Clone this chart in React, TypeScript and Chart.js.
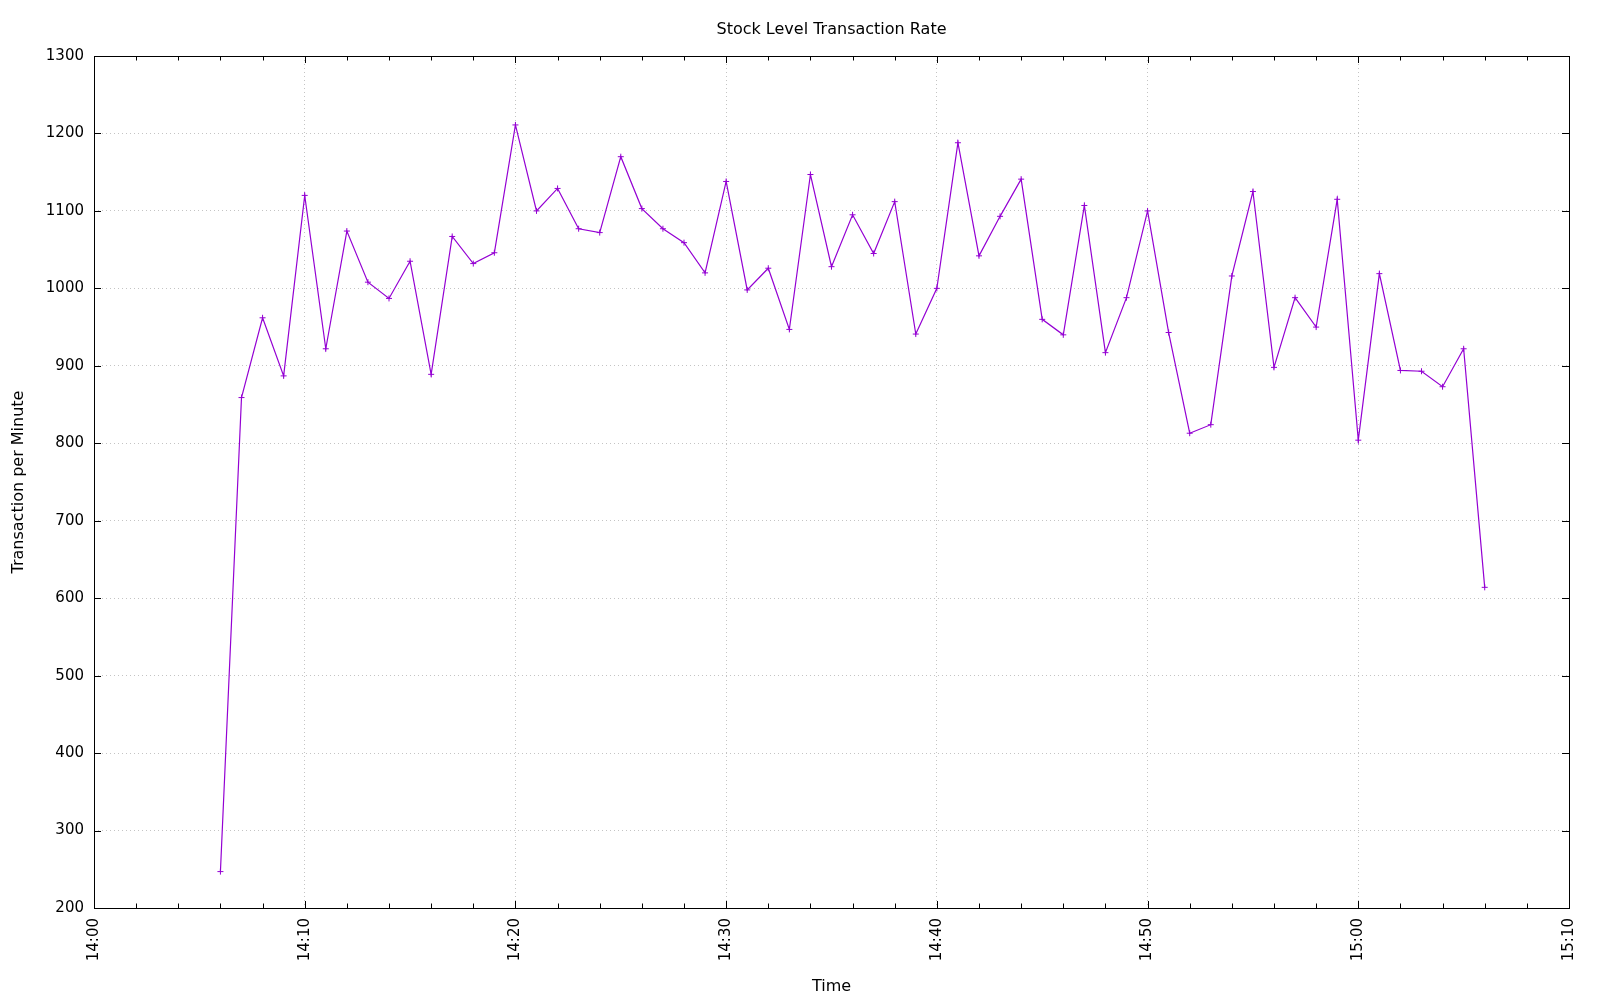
import React, { useEffect, useRef } from "react";
import { Chart, registerables } from "chart.js";

Chart.register(...registerables);

const times: string[] = [
  "14:06", "14:07", "14:08", "14:09", "14:10", "14:11", "14:12", "14:13", "14:14", "14:15",
  "14:16", "14:17", "14:18", "14:19", "14:20", "14:21", "14:22", "14:23", "14:24", "14:25",
  "14:26", "14:27", "14:28", "14:29", "14:30", "14:31", "14:32", "14:33", "14:34", "14:35",
  "14:36", "14:37", "14:38", "14:39", "14:40", "14:41", "14:42", "14:43", "14:44", "14:45",
  "14:46", "14:47", "14:48", "14:49", "14:50", "14:51", "14:52", "14:53", "14:54", "14:55",
  "14:56", "14:57", "14:58", "14:59", "15:00", "15:01", "15:02", "15:03", "15:04", "15:05",
  "15:06",
];

const rates: number[] = [
  247, 859, 962, 887, 1120, 922, 1074, 1008, 987, 1035,
  889, 1067, 1032, 1046, 1211, 1100, 1129, 1077, 1072, 1170,
  1103, 1077, 1059, 1020, 1138, 998, 1026, 947, 1147, 1028,
  1095, 1045, 1112, 941, 1000, 1188, 1042, 1093, 1141, 960,
  940, 1107, 917, 988, 1100, 943, 813, 824, 1016, 1125,
  898, 988, 950, 1115, 804, 1019, 894, 893, 873, 922,
  614,
];

const xTickLabels: string[] = ["14:00", "14:10", "14:20", "14:30", "14:40", "14:50", "15:00", "15:10"];

const FONT = "'DejaVu Sans', 'Liberation Sans', sans-serif";
const LINE_COLOR = "#9400d3";
const GRID_COLOR = "#c4c4c4";

function toMinutes(t: string): number {
  const [h, m] = t.split(":").map(Number);
  return (h - 14) * 60 + m;
}

const boxAndTicks = {
  id: "boxAndTicks",
  afterDraw(chart: any) {
    const { ctx, chartArea } = chart;
    const { left, right, top, bottom } = chartArea;
    const xs = chart.scales.x;
    const ys = chart.scales.y;
    ctx.save();
    ctx.strokeStyle = "#000";
    ctx.lineWidth = 1;
    ctx.beginPath();
    xs.ticks.forEach((t: any) => {
      const px = Math.round(xs.getPixelForValue(t.value)) + 0.5;
      const len = t.value % 10 === 0 ? 7 : 4.5;
      ctx.moveTo(px, bottom);
      ctx.lineTo(px, bottom - len);
      ctx.moveTo(px, top);
      ctx.lineTo(px, top + len);
    });
    ys.ticks.forEach((t: any) => {
      const py = Math.round(ys.getPixelForValue(t.value)) + 0.5;
      ctx.moveTo(left, py);
      ctx.lineTo(left + 7, py);
      ctx.moveTo(right, py);
      ctx.lineTo(right - 7, py);
    });
    ctx.stroke();
    ctx.strokeRect(Math.round(left) + 0.5, Math.round(top) + 0.5, Math.round(right - left), Math.round(bottom - top));
    ctx.restore();
  },
};

export default function App() {
  const ref = useRef<HTMLCanvasElement | null>(null);

  useEffect(() => {
    document.body.style.margin = "0";
    if (!ref.current) return;
    const data = times.map((t, i) => ({ x: toMinutes(t), y: rates[i] }));
    const chart = new Chart(ref.current, {
      type: "line",
      data: {
        datasets: [
          {
            label: "Stock Level",
            data,
            borderColor: LINE_COLOR,
            backgroundColor: LINE_COLOR,
            borderWidth: 1.2,
            pointStyle: "cross",
            pointRadius: 3,
            pointBorderWidth: 1,
            pointBorderColor: LINE_COLOR,
            pointHoverRadius: 3,
            tension: 0,
            fill: false,
          },
        ],
      },
      plugins: [boxAndTicks],
      options: {
        responsive: false,
        animation: false,
        devicePixelRatio: 1,
        layout: { padding: { left: 0, right: 31, top: 0, bottom: 0 } },
        plugins: {
          legend: { display: false },
          tooltip: { enabled: false },
          title: {
            display: true,
            fullSize: false,
            text: "Stock Level Transaction Rate",
            color: "#000",
            font: { family: FONT, size: 16, weight: "normal" },
            padding: { top: 20, bottom: 16.8 },
          },
        },
        scales: {
          x: {
            type: "linear",
            min: 0,
            max: 70,
            afterFit: (s: any) => {
              s.height = 92;
            },
            ticks: {
              stepSize: 2,
              autoSkip: false,
              maxRotation: 90,
              minRotation: 90,
              padding: 10,
              color: "#000",
              font: { family: FONT, size: 15 },
              callback: (v: any) => {
                const n = Number(v);
                return n % 10 === 0 ? xTickLabels[n / 10] : "";
              },
            },
            grid: {
              drawTicks: false,
              lineWidth: 1,
              color: (c: any) =>
                c.tick && c.tick.value % 10 === 0 && c.tick.value !== 0 && c.tick.value !== 70
                  ? GRID_COLOR
                  : "rgba(0,0,0,0)",
            },
            border: { display: false, dash: [1, 3] },
            title: {
              display: true,
              text: "Time",
              color: "#000",
              font: { family: FONT, size: 16 },
              padding: { top: 0, bottom: 4 },
            },
          },
          y: {
            type: "linear",
            min: 200,
            max: 1300,
            afterFit: (s: any) => {
              s.width = 94;
            },
            ticks: {
              stepSize: 100,
              padding: 10,
              color: "#000",
              font: { family: FONT, size: 15 },
              callback: (v: any) => String(v),
            },
            grid: {
              drawTicks: false,
              lineWidth: 1,
              color: (c: any) =>
                c.tick && c.tick.value !== 200 && c.tick.value !== 1300 ? GRID_COLOR : "rgba(0,0,0,0)",
            },
            border: { display: false, dash: [1, 3] },
            title: {
              display: true,
              text: "Transaction per Minute",
              color: "#000",
              font: { family: FONT, size: 16 },
              padding: { top: 9, bottom: 0 },
            },
          },
        },
      },
    });
    return () => chart.destroy();
  }, []);

  return (
    <div style={{ width: 1600, height: 1000, background: "#fff" }}>
      <canvas ref={ref} width={1600} height={1000} style={{ display: "block" }} />
    </div>
  );
}
